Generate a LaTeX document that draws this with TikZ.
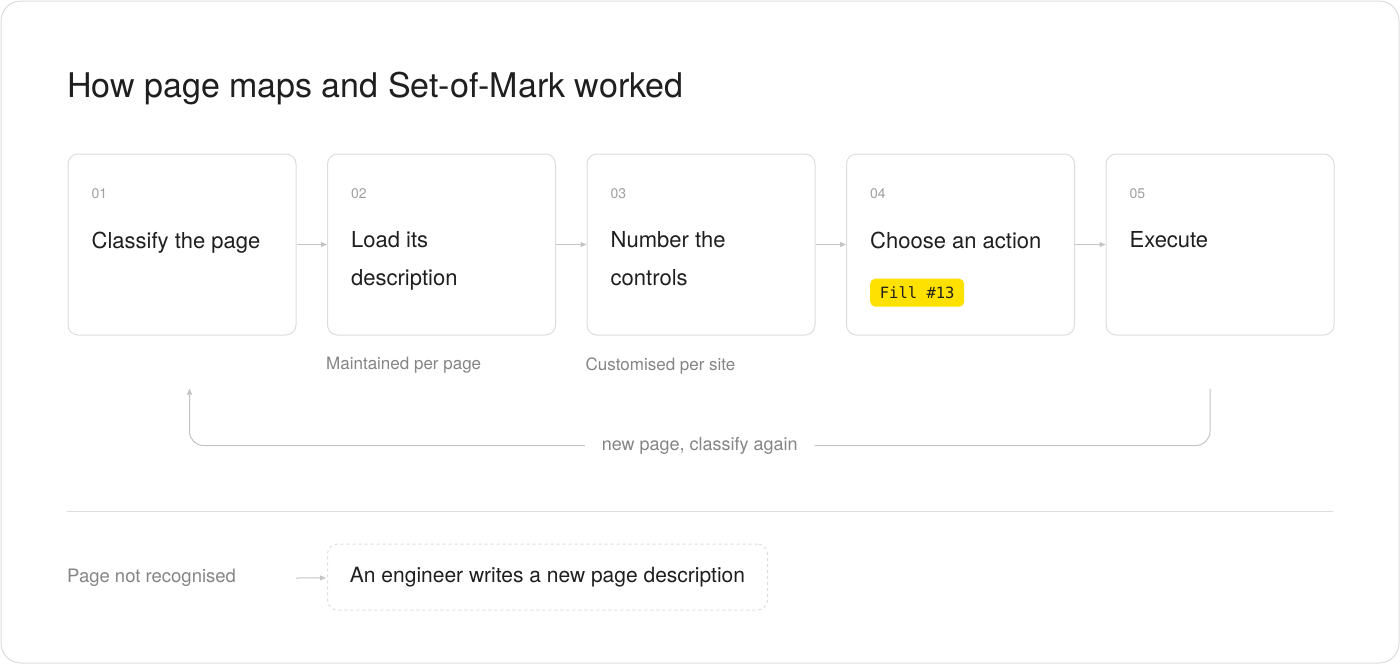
\documentclass[tikz,border=0pt]{standalone}
\usepackage{fontspec}
\setmainfont{TeX Gyre Heros}
\newfontfamily\monofont{DejaVu Sans Mono}
\usetikzlibrary{positioning,arrows.meta}

\definecolor{ink}{HTML}{1F1F1F}
\definecolor{edge}{HTML}{DDDDDD}
\definecolor{numgray}{HTML}{A0A0A0}
\definecolor{capgray}{HTML}{858585}
\definecolor{linkgray}{HTML}{C4C4C4}
\definecolor{markyellow}{HTML}{FFE100}

\tikzset{
	stepbox/.style={draw=edge,line width=1pt,rounded corners=10pt,minimum width=228pt,minimum height=181pt,inner sep=0pt},
	stepnum/.style={font=\fontsize{14}{16}\selectfont,text=numgray,anchor=west,inner sep=0pt},
	steptext/.style={font=\fontsize{22}{38}\selectfont,text=ink,align=left,anchor=north west,inner sep=0pt},
	badge/.style={fill=markyellow,rounded corners=5pt,minimum width=94pt,minimum height=28pt,inner sep=0pt,font=\monofont\fontsize{15.5}{18}\selectfont,text=ink},
	link/.style={draw=linkgray,line width=1pt,-{Triangle[length=6pt,width=5pt]}},
	caption/.style={font=\fontsize{17}{20}\selectfont,text=capgray,anchor=west,inner sep=0pt}
}

\begin{document}
\begin{tikzpicture}[x=1pt,y=-1pt]
	\path[use as bounding box] (0,0) rectangle (1400,664);
	\draw[edge,line width=1pt,rounded corners=20pt,fill=white] (1,1) rectangle (1399,663);
	\node[anchor=base west,inner sep=0pt,font=\fontsize{34}{40}\selectfont,text=ink] (title) at (67,97) {How page maps and Set-of-Mark worked};

	% the five steps
	\node[stepbox,anchor=north west] (s1) at (67.5,153.5) {};
	\node[stepbox,right=30.5pt of s1] (s2) {};
	\node[stepbox,right=30.5pt of s2] (s3) {};
	\node[stepbox,right=30.5pt of s3] (s4) {};
	\node[stepbox,right=30.5pt of s4] (s5) {};
	\foreach \i/\t in {1/{Classify the page},2/{Load its\\description},3/{Number the\\controls},4/{Choose an action},5/{Execute}}
	{
		\node[stepnum] (n\i) at ([xshift=24pt,yshift=-40pt]s\i.north west) {0\i};
		\node[steptext] (t\i) at ([xshift=24pt,yshift=-78pt]s\i.north west) {\t};
	}
	\node[badge,anchor=north west] (mark) at ([xshift=24pt,yshift=-125pt]s4.north west) {Fill \#13};
	\foreach \a/\b in {1/2,2/3,3/4,4/5}
		\draw[link] (s\a) -- (s\b);

	\node[caption] (c2) at ([xshift=-1pt,yshift=-30pt]s2.south west) {Maintained per page};
	\node[caption] (c3) at ([xshift=-1pt,yshift=-30pt]s3.south west) {Customised per site};

	% back to the first step
	\coordinate (loopR) at ([xshift=-10pt,yshift=-53pt]s5.south);
	\coordinate (loopL) at ([xshift=7.5pt,yshift=-53pt]s1.south);
	\draw[link,rounded corners=14pt] (loopR) -- ++(0,57) -| node[pos=0.25,fill=white,inner xsep=17pt,font=\fontsize{18}{20}\selectfont,text=capgray] (again) {new page, classify again} (loopL);

	\draw[edge,line width=1pt] (67,511) -- (1333,511);

	\node[caption,font=\fontsize{18.5}{20}\selectfont] (miss) at (67,578) {Page not recognised};
	\node[draw=edge,line width=1pt,dashed,rounded corners=10pt,minimum width=440pt,minimum height=66pt,font=\fontsize{21}{24}\selectfont,text=ink,anchor=west] (write) at (327,577) {\raisebox{-1.5pt}{An engineer writes a new page description}};
	\draw[link,shorten >=1pt] ([xshift=60pt]miss.east) -- (write);
\end{tikzpicture}
\end{document}
